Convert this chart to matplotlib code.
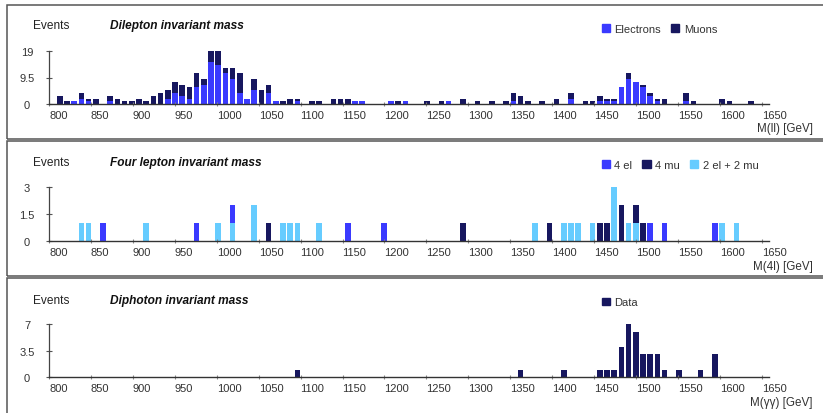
import matplotlib
matplotlib.use("Agg")
import matplotlib.pyplot as plt
from matplotlib.patches import Patch, Rectangle
import numpy as np

plt.rcParams['font.family'] = ['Liberation Sans', 'DejaVu Sans']

# ---------------- data ----------------
# Dilepton: bin centre [GeV], electrons, muons
dilep_mass = [812.9, 821.5, 830.1, 838.6, 847.2, 855.8, 873.0, 881.6, 890.2, 898.7,
              907.3, 915.9, 924.5, 933.1, 941.7, 950.3, 958.8, 967.4, 976.0, 984.6,
              993.2, 1001.8, 1010.4, 1018.9, 1027.5, 1036.1, 1044.7, 1053.3, 1061.9, 1070.5,
              1079.0, 1087.6, 1096.2, 1113.4, 1122.0, 1139.1, 1147.7, 1156.3, 1164.9, 1173.5,
              1207.8, 1216.4, 1225.0, 1250.8, 1267.9, 1276.5, 1293.7, 1310.9, 1328.0, 1345.2,
              1353.8, 1362.4, 1371.0, 1388.1, 1405.3, 1422.5, 1439.6, 1448.2, 1456.8, 1465.4,
              1474.0, 1482.6, 1491.2, 1499.7, 1508.3, 1516.9, 1525.5, 1534.1, 1559.8, 1568.4,
              1602.8, 1611.4, 1637.1]
electrons = [0, 0, 1, 2, 1, 0, 1, 0, 0, 0,
             0, 0, 0, 0, 2, 4, 3, 2, 6, 7,
             15, 14, 11, 9, 4, 2, 5, 0, 4, 1,
             0, 0, 1, 0, 0, 0, 0, 0, 1, 1,
             1, 0, 1, 0, 0, 1, 0, 0, 0, 0,
             1, 0, 0, 0, 0, 2, 0, 0, 1, 1,
             1, 6, 9, 8, 6, 3, 1, 0, 1, 0,
             0, 0, 0]
muons = [3, 1, 0, 2, 1, 2, 2, 2, 1, 1,
         2, 1, 3, 4, 3, 4, 4, 4, 5, 2,
         4, 5, 2, 4, 7, 0, 4, 5, 3, 0,
         1, 2, 1, 1, 1, 2, 2, 2, 0, 0,
         0, 1, 0, 1, 1, 0, 2, 1, 1, 1,
         3, 3, 1, 1, 2, 2, 1, 1, 2, 1,
         1, 0, 2, 0, 1, 1, 1, 2, 3, 1,
         2, 1, 1]

# Four lepton: bin centre [GeV], 4 el, 4 mu, 2 el + 2 mu
four_mass = [838.6, 847.2, 864.4, 915.9, 976.0, 1001.8, 1018.9, 1044.7, 1061.9, 1079.0,
             1087.6, 1096.2, 1122.0, 1156.3, 1199.2, 1293.7, 1379.5, 1396.7, 1413.9, 1422.5,
             1431.1, 1448.2, 1456.8, 1465.4, 1474.0, 1482.6, 1491.2, 1499.7, 1508.3, 1516.9,
             1534.1, 1594.2, 1602.8, 1620.0]
four_el = [0, 0, 1, 0, 1, 0, 1, 0, 0, 0,
           0, 0, 0, 1, 1, 0, 0, 0, 0, 0,
           0, 0, 0, 0, 0, 0, 0, 0, 0, 1,
           1, 1, 0, 0]
four_mu = [0, 0, 0, 0, 0, 0, 0, 0, 1, 0,
           0, 0, 0, 0, 0, 1, 0, 1, 0, 0,
           0, 0, 1, 1, 0, 2, 0, 1, 1, 0,
           0, 0, 0, 0]
two_two = [1, 1, 0, 1, 0, 1, 1, 2, 0, 1,
           1, 1, 1, 0, 0, 0, 1, 0, 1, 1,
           1, 1, 0, 0, 3, 0, 1, 1, 0, 0,
           0, 0, 1, 1]

# Diphoton: bin centre [GeV], events
diph_mass = [1096.2, 1362.4, 1413.9, 1456.8, 1465.4, 1474.0, 1482.6, 1491.2, 1499.7, 1508.3,
             1516.9, 1525.5, 1534.1, 1551.3, 1577.0, 1594.2]
diph_data = [1, 1, 1, 1, 1, 1, 4, 7, 6, 3,
             3, 3, 1, 1, 1, 3]

xticks = list(range(800, 1651, 50))

# ---------------- style ----------------
C_EL = '#3a3aff'
C_MU = '#17175f'
C_MIX = '#66ccff'
TXT = '#333333'
W, H = 823, 414
BAR_W = 6.6

fig = plt.figure(figsize=(W / 100, H / 100), dpi=100)


def fx(px):
    return px / W


def fy(py):
    return 1 - py / H


def make_axes(top_px, bot_px):
    return fig.add_axes([fx(49), fy(bot_px), fx(769) - fx(49), (bot_px - top_px) / H])


def style_axes(ax, ymax, ylabels, xlabel):
    ax.set_xlim(800, 1658.6)
    ax.set_ylim(0, ymax)
    for s in ['top', 'right']:
        ax.spines[s].set_visible(False)
    ax.spines['left'].set_color('#444444')
    ax.spines['left'].set_linewidth(0.9)
    ax.spines['bottom'].set_color('#333333')
    ax.spines['bottom'].set_linewidth(1.0)
    ax.set_yticks([0, ymax / 2, ymax], ylabels)
    ax.set_xticks(xticks, [str(v) for v in xticks])
    ax.tick_params(axis='y', direction='inout', length=4.3, width=0.8, color='#555555',
                   pad=13.7, labelsize=8, labelcolor=TXT)
    ax.tick_params(axis='x', direction='inout', length=2.5, width=0.8, color='#888888',
                   pad=2.8, labelsize=8, labelcolor=TXT)
    for lbl in ax.get_yticklabels():
        lbl.set_horizontalalignment('center')
    for lbl in ax.get_xticklabels():
        lbl.set_horizontalalignment('left')
    ax.set_xlabel(xlabel, fontsize=8.4, color=TXT, ha='right', va='center')
    ax.patch.set_alpha(0)


def panel_text(y_px, title):
    fig.text(fx(33), fy(y_px), 'Events', fontsize=8.6, color='#222222', va='center', ha='left')
    fig.text(fx(110), fy(y_px), title, fontsize=8.6, color='#111111', va='center', ha='left',
             fontweight='bold', fontstyle='italic')


def panel_legend(y_px, handles):
    fig.legend(handles=handles, loc='center left', bbox_to_anchor=(fx(601.7), fy(y_px)),
               ncol=len(handles), frameon=False, fontsize=8, borderpad=0, borderaxespad=0,
               handlelength=0.75, handleheight=0.7, handletextpad=0.4, columnspacing=0.9,
               labelcolor=TXT)


# frames (they run past the right edge of the picture)
for top, bot in [(5.5, 140), (141.5, 277), (278.5, 430)]:
    fig.add_artist(Rectangle((fx(6.5), fy(bot)), fx(840) - fx(6.5), (bot - top) / H,
                             transform=fig.transFigure, fill=False, edgecolor='#555555',
                             linewidth=1.1))

# ---- panel 1: dilepton ----
ax1 = make_axes(51.7, 105.3)
ax1.bar(dilep_mass, electrons, width=BAR_W, color=C_EL, linewidth=0)
ax1.bar(dilep_mass, muons, width=BAR_W, bottom=electrons, color=C_MU, linewidth=0)
style_axes(ax1, 19, ['0', '9.5', '19'], 'M(ll) [GeV]')
ax1.xaxis.set_label_coords((812.7 - 49) / 720, -(128.7 - 105.3) / 53.6)
panel_text(26, 'Dilepton invariant mass')
panel_legend(30, [Patch(color=C_EL, label='Electrons'), Patch(color=C_MU, label='Muons')])

# ---- panel 2: four lepton ----
ax2 = make_axes(188.3, 242)
mix = np.array(two_two)
el = np.array(four_el)
ax2.bar(four_mass, mix, width=BAR_W, color=C_MIX, linewidth=0)
ax2.bar(four_mass, el, width=BAR_W, bottom=mix, color=C_EL, linewidth=0)
ax2.bar(four_mass, four_mu, width=BAR_W, bottom=mix + el, color=C_MU, linewidth=0)
style_axes(ax2, 3, ['0', '1.5', '3'], 'M(4l) [GeV]')
ax2.xaxis.set_label_coords((812.7 - 49) / 720, -(266.7 - 242) / 53.7)
panel_text(163.3, 'Four lepton invariant mass')
panel_legend(166, [Patch(color=C_EL, label='4 el'), Patch(color=C_MU, label='4 mu'),
                   Patch(color=C_MIX, label='2 el + 2 mu')])

# ---- panel 3: diphoton ----
ax3 = make_axes(325, 378.3)
ax3.bar(diph_mass, diph_data, width=BAR_W, color=C_MU, linewidth=0)
style_axes(ax3, 7, ['0', '3.5', '7'], 'M(γγ) [GeV]')
ax3.xaxis.set_label_coords((812.7 - 49) / 720, -(403.3 - 378.3) / 53.3)
panel_text(300.7, 'Diphoton invariant mass')
panel_legend(303.3, [Patch(color=C_MU, label='Data')])

fig.savefig('out.png', dpi=100)
